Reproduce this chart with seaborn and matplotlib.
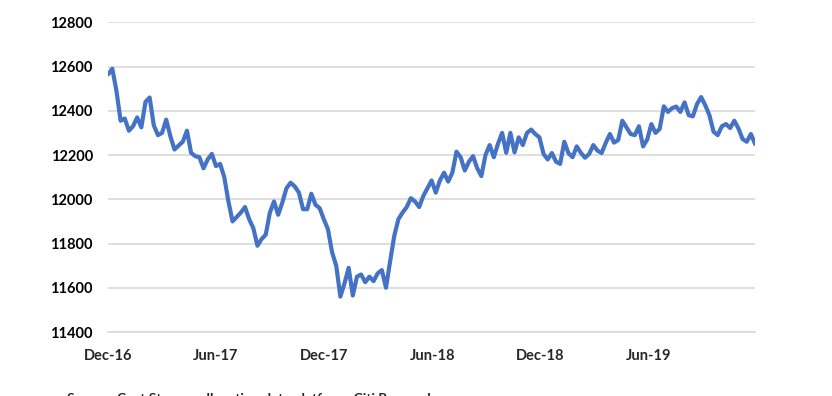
import pandas as pd
import matplotlib
matplotlib.use('Agg')
import matplotlib.pyplot as plt
import seaborn as sns

# weekly readings, Dec-2016 .. Nov-2019
start_date = "2016-12-01"
values = [
    12565, 12590, 12490, 12355, 12365, 12310, 12330, 12370, 12325, 12440,
    12460, 12335, 12290, 12300, 12360, 12285, 12225, 12243, 12260, 12310,
    12210, 12195, 12190, 12140, 12180, 12205, 12150, 12160, 12100, 11990,
    11900, 11920, 11940, 11965, 11910, 11870, 11790, 11820, 11840, 11940,
    11990, 11930, 11985, 12050, 12075, 12058, 12030, 11955, 11955, 12025,
    11975, 11960, 11910, 11865, 11760, 11700, 11560, 11620, 11690, 11565,
    11650, 11660, 11625, 11650, 11630, 11665, 11680, 11600, 11720, 11835,
    11910, 11940, 11965, 12005, 11990, 11965, 12015, 12050, 12085, 12030,
    12085, 12120, 12080, 12120, 12215, 12190, 12130, 12170, 12195, 12140,
    12105, 12200, 12245, 12190, 12250, 12300, 12210, 12300, 12212, 12280,
    12245, 12300, 12315, 12295, 12280, 12205, 12180, 12209, 12170, 12160,
    12260, 12209, 12190, 12239, 12210, 12188, 12205, 12245, 12220, 12209,
    12255, 12295, 12256, 12268, 12355, 12325, 12295, 12290, 12330, 12239,
    12270, 12340, 12300, 12318, 12420, 12395, 12412, 12419, 12395, 12438,
    12380, 12375, 12430, 12462, 12425, 12380, 12305, 12290, 12330, 12340,
    12322, 12355, 12320, 12272, 12260, 12295, 12250,
]
tick_dates = ["2016-12-01", "2017-06-01", "2017-12-01",
              "2018-06-01", "2018-12-01", "2019-06-01"]
tick_labels = ["Dec-16", "Jun-17", "Dec-17", "Jun-18", "Dec-18", "Jun-19"]
y_ticks = [11400, 11600, 11800, 12000, 12200, 12400, 12600, 12800]
source_note = "Source: Cost Stream, allocation data platform, Citi Research"

df = pd.DataFrame({
    "date": pd.date_range(start_date, periods=len(values), freq="7D"),
    "value": values,
})

sns.set_style("white")
plt.rcParams['font.family'] = ['Lato', 'DejaVu Sans']

fig = plt.figure(figsize=(8.32, 3.96), dpi=100)
ax = fig.add_axes([0.13, 0.1616, 0.7775, 0.7821])

sns.lineplot(data=df, x="date", y="value", ax=ax, color="#4472C4", linewidth=3.0)

ax.set_xlim(df["date"].iloc[0], df["date"].iloc[-1])
ax.set_ylim(11400, 12800)
ax.set_yticks(y_ticks)
ax.set_yticklabels([str(v) for v in y_ticks], fontsize=10.5, fontweight='bold')
ax.set_xticks(pd.to_datetime(tick_dates))
ax.set_xticklabels(tick_labels, fontsize=10.5, fontweight='bold')

ax.grid(axis='y', color='#d9d9d9', linewidth=1.2)
ax.set_axisbelow(True)
for side in ['left', 'right', 'top']:
    ax.spines[side].set_visible(False)
ax.spines['bottom'].set_color('#d9d9d9')
ax.spines['bottom'].set_linewidth(1.2)
ax.tick_params(axis='y', length=0, pad=11, colors='black')
ax.tick_params(axis='x', length=4, width=1.0, color='#d9d9d9', direction='out', pad=8)
ax.set_xlabel('')
ax.set_ylabel('')

# the note sits at the lower edge and is cut off, as in the reference
fig.text(0.08, 0.0076, source_note, fontsize=10, fontweight='bold', va='top', ha='left')

fig.savefig("out.png", dpi=100, facecolor='white')
plt.close()
